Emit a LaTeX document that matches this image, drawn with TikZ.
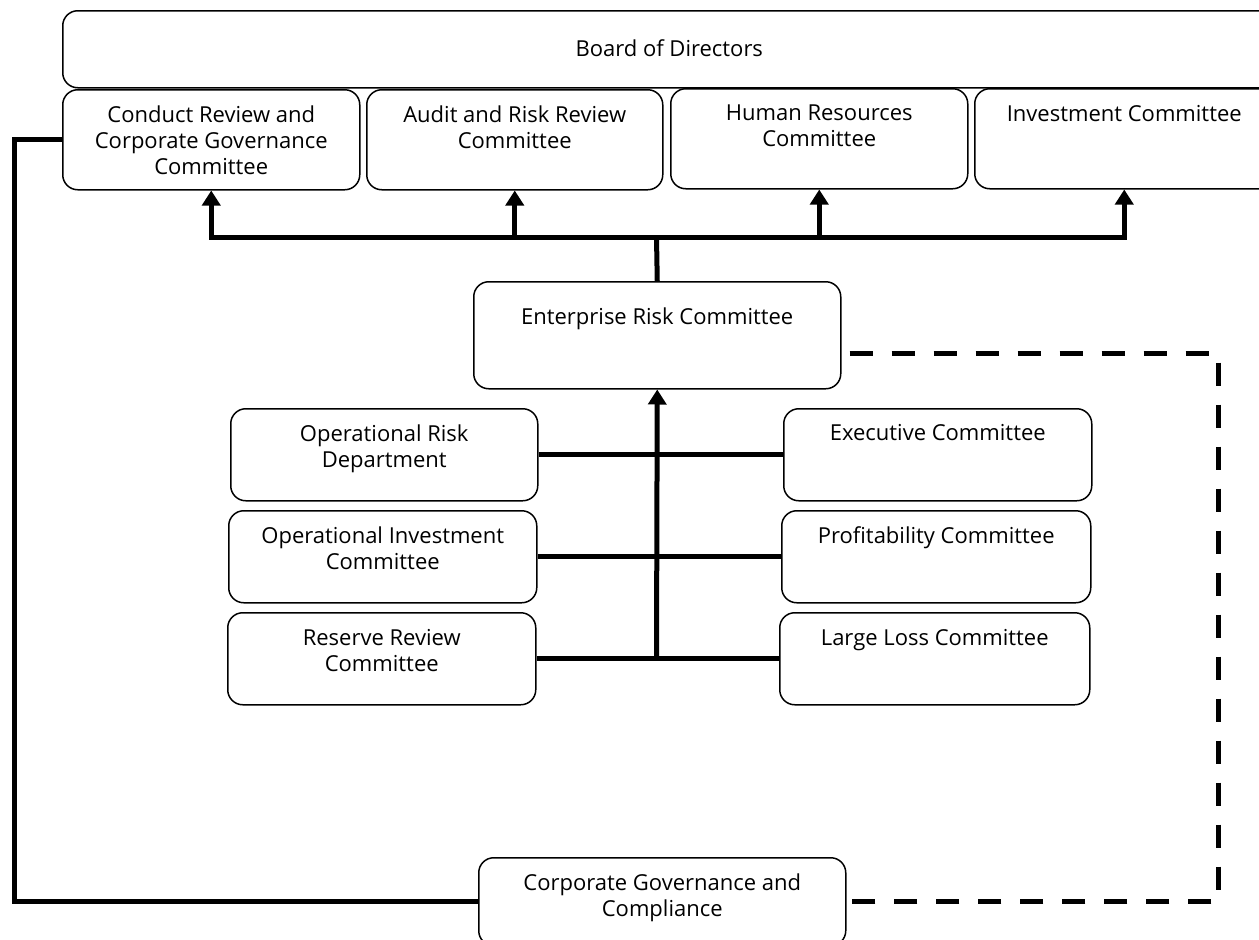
\documentclass[tikz,border=0pt]{standalone}
\usepackage{fontspec}
\setmainfont{Open Sans}[Ligatures=NoCommon]
\usetikzlibrary{arrows.meta}
\newcommand\boxtext[4]{\parbox[t][#2][t]{#1}{\centering\rule{0pt}{#3}#4}}
\tikzset{
  orgbox/.style={draw, rounded corners=15pt, line width=1.5pt, inner sep=0pt, anchor=north west,
    font=\fontsize{22}{26}\selectfont},
  conn/.style={line width=5pt},
  arr/.style={line width=5pt, -{Triangle[width=18pt,length=15pt]}},
  dashline/.style={line width=5pt, dash pattern=on 23pt off 19pt, dash phase=34pt},
}
\begin{document}
\begin{tikzpicture}[x=1pt,y=-1pt]
\useasboundingbox (0,0) rectangle (1259,940);
\clip (0,0) rectangle (1259,940);
\fill[white] (0,0) rectangle (1259,940);

\node[orgbox] (board) at (62,10) {\boxtext{1213pt}{77pt}{46pt}{Board of Directors}};
\node[orgbox] (conduct) at (62,89) {\boxtext{297pt}{100pt}{33pt}{Conduct Review and\\Corporate Governance\\Committee}};
\node[orgbox] (audit) at (366,89) {\boxtext{296pt}{100pt}{33pt}{Audit and Risk Review\\Committee}};
\node[orgbox] (hr) at (670,88) {\boxtext{297pt}{100pt}{32pt}{Human Resources\\Committee}};
\node[orgbox] (inv) at (974,88) {\boxtext{299pt}{100pt}{33pt}{Investment Committee}};

\node[orgbox] (erc) at (473,281) {\boxtext{367pt}{107pt}{43pt}{Enterprise Risk Committee}};

\node[orgbox] (oprisk) at (230,408) {\boxtext{307pt}{92pt}{33pt}{Operational Risk\\Department}};
\node[orgbox] (opinv) at (228,510) {\boxtext{308pt}{92pt}{33pt}{Operational Investment\\Committee}};
\node[orgbox] (reserve) at (227,612) {\boxtext{308pt}{92pt}{33pt}{Reserve Review\\Committee}};

\node[orgbox] (exec) at (783,408) {\boxtext{308pt}{92pt}{32pt}{Executive Committee}};
\node[orgbox] (profit) at (781,510) {\boxtext{309pt}{92pt}{33pt}{Profitability Committee}};
\node[orgbox] (large) at (779,612) {\boxtext{310pt}{92pt}{33pt}{Large Loss Committee}};

\node[orgbox] (cg) at (478,857) {\boxtext{367pt}{88pt}{33pt}{Corporate Governance and\\Compliance}};

% top connectors
\coordinate (hub) at (656.5,237);
\draw[conn] (erc.north) -- (hub);
\draw[arr] (hub) -| (conduct.south);
\draw[arr] (hub) -| (inv.south);
\draw[arr] (audit.south |- hub) -- (audit.south);
\draw[arr] (hr.south |- hub) -- (hr.south);

% central connectors
\coordinate (low) at (656.5,658);
\draw[arr] (low) -- (erc.south);
\draw[conn] (oprisk.east) -- (exec.west);
\draw[conn] (opinv.east) -- (profit.west);
\draw[conn] (reserve.east) -- (large.west);

% left solid line
\coordinate (lc) at (14,0);
\draw[conn] (cg.west) -| (lc |- conduct.west) -- (conduct.west);

% dashed line
\coordinate (dtop) at (1218,353);
\draw[dashline] (erc.east |- dtop) -- (dtop) |- (cg.east);
\end{tikzpicture}
\end{document}
